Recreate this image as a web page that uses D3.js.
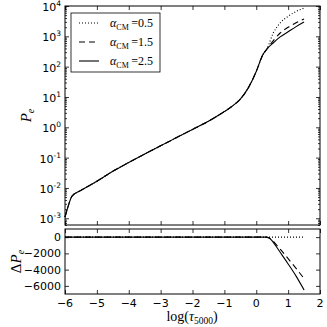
<!DOCTYPE html>
<html lang="en">
<head>
  <meta charset="UTF-8">
  <script src="https://d3js.org/d3.v7.min.js"></script>
  <style>
    body { margin: 0; background: #fff; }
    .lbl { font-family: 'DejaVu Sans', sans-serif; font-size: 11px; fill: #000; }
    .math { font-family: 'Liberation Serif', serif; fill: #000; }
  </style>
</head>
<body>
<div id="chart"></div>
<script>
  // log(tau_5000) sample points for the upper panel
  let tau = [-6, -5.9, -5.78, -5.5, -5, -4.5, -4, -3.5, -3, -2.5, -2, -1.5, -1, -0.75, -0.5, -0.25, 0, 0.2, 0.35, 0.53, 0.75, 1.0, 1.25, 1.5]
  // log10(P_e) for each alpha_CM
  let logPe05 = [-2.96, -2.6, -2.27, -2.08, -1.78, -1.45, -1.16, -0.88, -0.61, -0.34, -0.07, 0.2, 0.52, 0.7, 0.93, 1.3, 1.84, 2.38, 2.62, 3.1, 3.44, 3.66, 3.82, 3.93]
  let logPe15 = [-2.96, -2.6, -2.27, -2.08, -1.78, -1.45, -1.16, -0.88, -0.61, -0.34, -0.07, 0.2, 0.52, 0.7, 0.93, 1.3, 1.84, 2.38, 2.6, 2.85, 3.11, 3.3, 3.45, 3.57]
  let logPe25 = [-2.96, -2.6, -2.27, -2.08, -1.78, -1.45, -1.16, -0.88, -0.61, -0.34, -0.07, 0.2, 0.52, 0.7, 0.93, 1.3, 1.84, 2.38, 2.6, 2.78, 2.98, 3.15, 3.32, 3.47]

  // lower panel: difference Delta P_e
  let tauD = [-6, 0, 0.3, 0.4, 0.5, 0.6, 0.8, 1.0, 1.25, 1.5]
  let dPe05 = [0, 0, 0, 0, 0, 0, 0, 0, 0, 0]
  let dPe15 = [0, 0, 0, -80, -350, -800, -1700, -2650, -3850, -5100]
  let dPe25 = [0, 0, 0, -100, -450, -1000, -2150, -3300, -4800, -6500]

  let alphas = ['0.5', '1.5', '2.5']
  let dashes = ['1,2', '6,4', null]
  let xTicks = [-6, -5, -4, -3, -2, -1, 0, 1, 2]
  let yTicksTop = [-3, -2, -1, 0, 1, 2, 3, 4]
  let yTicksBot = [0, -2000, -4000, -6000]

  let width = 327, height = 327
  let left = 65, right = 320
  let top1 = 6, bot1 = 225, top2 = 229, bot2 = 294

  let svg = d3.select("#chart").append("svg")
          .attr("width", width).attr("height", height)

  let x = d3.scaleLinear().domain([-6, 2]).range([left, right])
  let yTop = d3.scaleLog().domain([6e-4, 1e4]).range([bot1, top1])
  let yBot = d3.scaleLinear().domain([-7000, 1000]).range([bot2, top2])

  let seriesTop = [logPe05, logPe15, logPe25]
  let seriesBot = [dPe05, dPe15, dPe25]

  //Axes with inward ticks
  function frame(y, t0, t1, yTickVals, minorVals) {
    let g = svg.append("g")
    g.append("g").attr("transform", "translate(0," + t1 + ")")
            .call(d3.axisBottom(x).tickValues(xTicks).tickSize(-4).tickFormat(""))
    g.append("g").attr("transform", "translate(0," + t0 + ")")
            .call(d3.axisTop(x).tickValues(xTicks).tickSize(-4).tickFormat(""))
    g.append("g").attr("transform", "translate(" + left + ",0)")
            .call(d3.axisLeft(y).tickValues(yTickVals).tickSize(-4).tickFormat(""))
    g.append("g").attr("transform", "translate(" + right + ",0)")
            .call(d3.axisRight(y).tickValues(yTickVals).tickSize(-4).tickFormat(""))
    if (minorVals) {
      g.append("g").attr("transform", "translate(" + left + ",0)")
              .call(d3.axisLeft(y).tickValues(minorVals).tickSize(-2).tickFormat(""))
      g.append("g").attr("transform", "translate(" + right + ",0)")
              .call(d3.axisRight(y).tickValues(minorVals).tickSize(-2).tickFormat(""))
    }
    g.selectAll(".domain").remove()
    g.selectAll("line").attr("stroke", "#000").attr("stroke-width", 0.8)
    g.append("rect").attr("x", left).attr("y", t0)
            .attr("width", right - left).attr("height", t1 - t0)
            .attr("fill", "none").attr("stroke", "#000").attr("stroke-width", 1)
    return g
  }

  let minor = []
  for (let e = -4; e < 4; e++) for (let m = 2; m < 10; m++) {
    let v = m * Math.pow(10, e)
    if (v >= 6e-4) minor.push(v)
  }
  frame(yTop, top1, bot1, yTicksTop.map(e => Math.pow(10, e)), minor)
  frame(yBot, top2, bot2, yTicksBot, null)

  //Curves
  let lineTop = d3.line()
          .x((d, i) => x(tau[i]))
          .y(d => yTop(Math.pow(10, d)))
          .curve(d3.curveMonotoneX)
  let lineBot = d3.line()
          .x((d, i) => x(tauD[i]))
          .y(d => yBot(d))
          .curve(d3.curveMonotoneX)

  for (let k = 2; k >= 0; k--) {
    svg.append("path").attr("d", lineTop(seriesTop[k]))
            .attr("fill", "none").attr("stroke", "#000").attr("stroke-width", 1.1)
            .attr("stroke-dasharray", dashes[k])
    svg.append("path").attr("d", lineBot(seriesBot[k]))
            .attr("fill", "none").attr("stroke", "#000").attr("stroke-width", 1.1)
            .attr("stroke-dasharray", dashes[k])
  }

  //Tick labels
  yTicksTop.forEach(e => {
    let t = svg.append("text").attr("class", "lbl").attr("text-anchor", "end")
            .attr("x", left - 4).attr("y", yTop(Math.pow(10, e)) + 5)
    t.append("tspan").text("10")
    t.append("tspan").attr("dy", -5).attr("font-size", "7.5px").text(e)
  })
  yTicksBot.forEach(v => {
    svg.append("text").attr("class", "lbl").attr("text-anchor", "end")
            .attr("x", left - 4).attr("y", yBot(v) + 4)
            .text(v < 0 ? "\u2212" + Math.abs(v) : v)
  })
  xTicks.forEach(v => {
    svg.append("text").attr("class", "lbl").attr("text-anchor", "middle")
            .attr("x", x(v)).attr("y", bot2 + 13)
            .text(v < 0 ? "\u2212" + Math.abs(v) : v)
  })

  //Axis titles
  let yl1 = svg.append("text").attr("class", "math").attr("font-size", "15px")
          .attr("text-anchor", "middle")
          .attr("transform", "translate(31," + ((top1 + bot1) / 2) + ") rotate(-90)")
  yl1.append("tspan").attr("font-style", "italic").text("P")
  yl1.append("tspan").attr("font-size", "10px").attr("dy", 3).attr("font-style", "italic").text("e")

  let yl2 = svg.append("text").attr("class", "math").attr("font-size", "15px")
          .attr("text-anchor", "middle")
          .attr("transform", "translate(21," + ((top2 + bot2) / 2) + ") rotate(-90)")
  yl2.append("tspan").text("\u0394")
  yl2.append("tspan").attr("font-style", "italic").text("P")
  yl2.append("tspan").attr("font-size", "10px").attr("dy", 3).attr("font-style", "italic").text("e")

  let xl = svg.append("text").attr("class", "math").attr("font-size", "14px")
          .attr("text-anchor", "middle").attr("x", 192).attr("y", 321)
  xl.append("tspan").text("log(")
  xl.append("tspan").attr("font-style", "italic").text("\u03C4")
  xl.append("tspan").attr("font-size", "9.5px").attr("dy", 3).text("5000")
  xl.append("tspan").attr("dy", -3).text(")")

  //Legend
  let lg = svg.append("g")
  lg.append("rect").attr("x", 71).attr("y", 13).attr("width", 89).attr("height", 59)
          .attr("fill", "#fff").attr("stroke", "#000").attr("stroke-width", 0.8)
  alphas.forEach((a, i) => {
    let yy = 23 + i * 19
    lg.append("line").attr("x1", 79).attr("x2", 99).attr("y1", yy).attr("y2", yy)
            .attr("stroke", "#000").attr("stroke-width", 1.1).attr("stroke-dasharray", dashes[i])
    let t = lg.append("text").attr("class", "math").attr("font-size", "12px")
            .attr("x", 110).attr("y", yy + 4)
    t.append("tspan").attr("font-style", "italic").text("\u03B1")
    t.append("tspan").attr("font-size", "8px").attr("dy", 3).text("CM")
    t.append("tspan").attr("dy", -3).text("\u2009=" + a)
  })
</script>
</body>
</html>
